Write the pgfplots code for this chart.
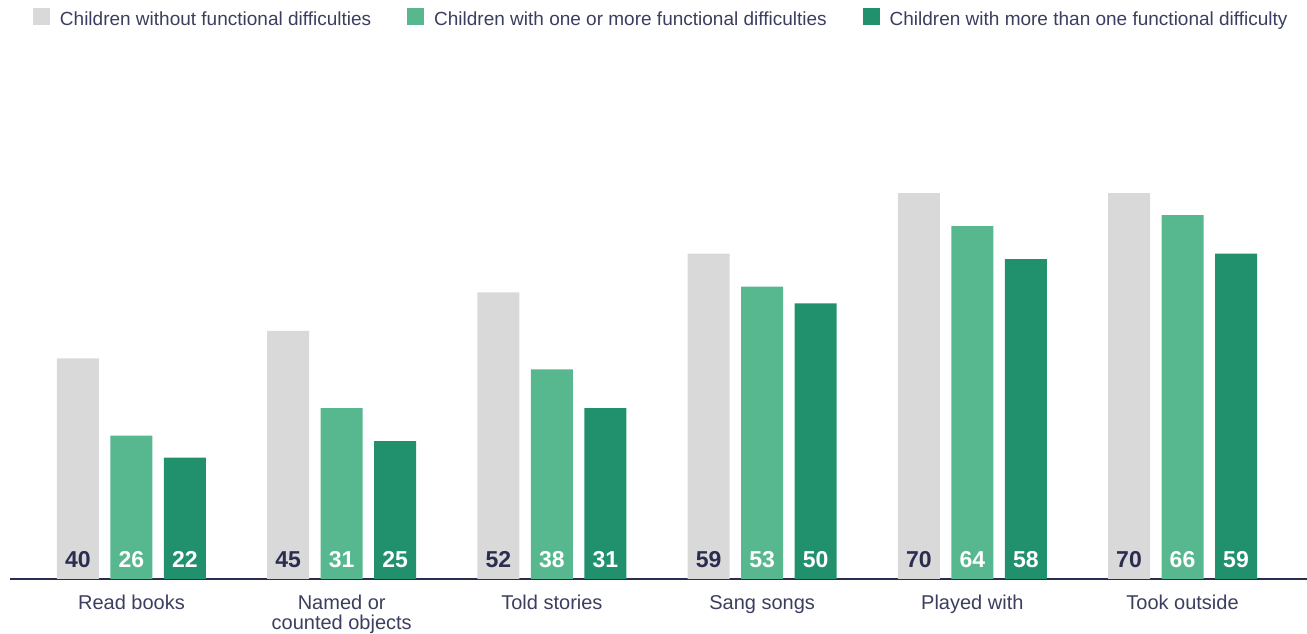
\documentclass[border=0pt]{standalone}
\usepackage{pgfplots}
\pgfplotsset{compat=1.18}
\usepackage{fontspec}
\setmainfont{Liberation Sans}
\definecolor{cgray}{HTML}{D9D9D9}
\definecolor{clight}{HTML}{57B88F}
\definecolor{cdark}{HTML}{21906D}
\definecolor{ctext}{HTML}{3B3E5E}
\definecolor{cnum}{HTML}{2A2D50}
\begin{document}
\begin{tikzpicture}
\useasboundingbox (-10pt,-55pt) rectangle (1297pt,579pt);
\begin{axis}[
  scale only axis, width=1297pt, height=539pt,
  ymin=0, ymax=97.75, xmin=-0.578, xmax=5.592,
  ybar, bar width=42pt,
  axis x line*=bottom, axis y line=none,
  x axis line style={draw=cnum, line width=1.2pt, -},
  xtick={0,1,2,3,4,5}, xtick style={draw=none},
  xticklabels={Read books,{Named or\\counted objects},Told stories,Sang songs,Played with,Took outside},
  xticklabel style={align=center, anchor=north, inner sep=0pt, yshift=-12pt, font=\fontsize{20}{20}\selectfont, text=ctext},
  clip=false,
  /pgf/number format/assume math mode=true,
  nodes near coords,
  visualization depends on={y \as \rawy},
  every node near coord/.append style={anchor=base, shift={(axis direction cs:0,-\rawy)}, yshift=11pt, font=\fontsize{23}{23}\selectfont\bfseries},
  legend columns=3,
  legend style={at={(0.01773,1.0417)}, anchor=west, draw=none, fill=none, inner sep=0pt, outer sep=0pt,
    font=\fontsize{19}{19}\selectfont, text=ctext,
    /tikz/column sep=10pt,
    /tikz/every even column/.append style={column sep=36pt},
    nodes={inner sep=0pt}},
  legend image code/.code={\fill[#1] (0pt,-6pt) rectangle (17pt,11pt);},
]
\addplot[fill=cgray, draw=none, bar shift=-53.5pt, every node near coord/.append style={text=cnum}]
  coordinates {(0,40) (1,45) (2,52) (3,59) (4,70) (5,70)};
\addplot[fill=clight, draw=none, bar shift=0pt, every node near coord/.append style={text=white}]
  coordinates {(0,26) (1,31) (2,38) (3,53) (4,64) (5,66)};
\addplot[fill=cdark, draw=none, bar shift=53.5pt, every node near coord/.append style={text=white}]
  coordinates {(0,22) (1,25) (2,31) (3,50) (4,58) (5,59)};
\legend{Children without functional difficulties, Children with one or more functional difficulties, Children with more than one functional difficulty}
\end{axis}
\end{tikzpicture}
\end{document}
